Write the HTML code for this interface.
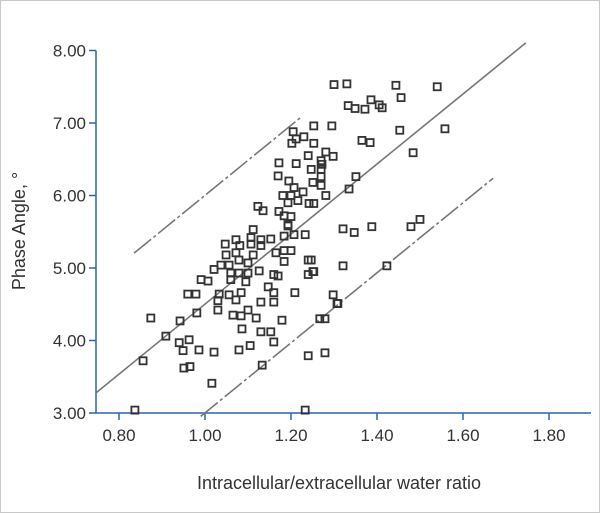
<!DOCTYPE html>
<html><head><meta charset="utf-8"><style>
html,body{margin:0;padding:0;background:#fff}
#wrap{position:relative;width:598px;height:511px;border:1px solid #c8c8c8;overflow:hidden}
svg text{font-family:"Liberation Sans",sans-serif;fill:#333}
</style></head><body>
<div id="wrap">
<svg id="chart" width="598" height="511"></svg>
</div>
<script>
const xTicks=[0.80,1.00,1.20,1.40,1.60,1.80];
const yTicks=[3.00,4.00,5.00,6.00,7.00,8.00];
const icwRatio=[1.300,1.253,1.295,1.205,1.212,1.230,1.202,1.253,1.281,1.298,1.240,1.270,1.172,1.212,1.170,1.247,1.270,1.195,1.251,1.270,1.270,1.207,1.228,1.281,1.181,1.200,1.216,1.193,1.242,1.253,1.123,1.135,1.172,1.184,1.200,1.193,1.112,
1.193,1.047,1.072,1.107,1.130,1.153,1.184,1.207,1.233,1.081,1.107,1.130,1.049,1.072,1.112,1.165,1.184,1.200,1.037,1.056,1.079,1.100,1.184,1.247,1.021,1.060,1.079,1.100,1.126,1.160,1.170,1.240,1.251,0.991,1.007,1.060,1.095,0.960,0.979,1.033,1.056,1.084,1.147,1.160,1.209,1.298,1.307,1.030,1.072,1.130,1.160,1.030,0.981,1.065,1.084,1.100,1.119,0.942,0.874,1.179,1.267,1.086,1.130,1.153,0.909,0.940,0.963,0.949,0.986,1.021,1.079,1.105,1.160,1.240,1.279,0.856,0.951,0.965,1.133,1.016,0.837,1.233,
1.330,1.444,1.540,1.456,1.333,1.349,1.372,1.386,1.405,1.412,1.453,1.558,1.384,1.365,1.484,1.272,1.351,1.335,1.321,1.347,1.388,1.479,1.500,1.240,1.253,1.321,1.423,1.309,1.279];
const phaseAngle=[7.53,6.96,6.96,6.88,6.78,6.81,6.72,6.72,6.60,6.54,6.55,6.48,6.45,6.44,6.27,6.36,6.36,6.20,6.18,6.26,6.14,6.11,6.05,6.00,6.00,6.00,5.93,5.90,5.89,5.89,5.85,5.79,5.78,5.72,5.71,5.60,5.53,
5.58,5.33,5.39,5.42,5.39,5.40,5.44,5.46,5.46,5.31,5.33,5.31,5.18,5.21,5.18,5.21,5.24,5.24,5.04,5.04,5.11,5.07,5.09,5.11,4.98,4.93,4.93,4.93,4.96,4.91,4.89,4.91,4.95,4.84,4.82,4.84,4.81,4.64,4.64,4.64,4.63,4.66,4.74,4.66,4.66,4.63,4.51,4.55,4.56,4.53,4.53,4.42,4.38,4.35,4.34,4.42,4.31,4.27,4.31,4.28,4.30,4.16,4.12,4.12,4.06,3.97,4.01,3.86,3.87,3.84,3.87,3.93,3.98,3.79,3.83,3.72,3.62,3.64,3.66,3.41,3.04,3.04,
7.54,7.52,7.50,7.35,7.24,7.20,7.19,7.32,7.25,7.21,6.90,6.92,6.73,6.76,6.59,6.43,6.26,6.09,5.54,5.49,5.57,5.57,5.67,5.11,4.95,5.03,5.03,4.51,4.30];
const fitIntercept=3.28, fitSlope=4.83, fitX0=0.747, bandOffset=1.5;

const NS='http://www.w3.org/2000/svg';
const svg=document.getElementById('chart');
const X0=95,X1=590,Y0=412;
function sx(v){return 204+(v-1)*430;}
function sy(v){return 412-(v-3)*72.5;}
function mk(t,a,p){const e=document.createElementNS(NS,t);for(const k in a)e.setAttribute(k,a[k]);(p||svg).appendChild(e);return e;}
function fit(x){return fitIntercept+fitSlope*(x-fitX0);}

// axes
let ya=mk('line',{x1:X0,y1:sy(8),x2:X0,y2:Y0,stroke:'#2a64b0','stroke-width':1.5});


let xa=mk('line',{x1:X0,y1:Y0,x2:X1,y2:Y0,stroke:'#2a64b0','stroke-width':1.5});


yTicks.forEach(v=>{
  let l=mk('line',{x1:X0-7,y1:sy(v),x2:X0,y2:sy(v),stroke:'#2a64b0','stroke-width':1.5});
  
  
  let t=mk('text',{x:X0-10,y:sy(v)+6,'text-anchor':'end','font-size':17});
  t.textContent=v.toFixed(2);
  
  
});
xTicks.forEach(v=>{
  let l=mk('line',{x1:sx(v),y1:Y0,x2:sx(v),y2:Y0+7,stroke:'#2a64b0','stroke-width':1.5});
  
  
  let t=mk('text',{x:sx(v),y:Y0+28,'text-anchor':'middle','font-size':17});
  t.textContent=v.toFixed(2);
  
  
});
let xt=mk('text',{x:338,y:488,'text-anchor':'middle','font-size':18});
xt.textContent='Intracellular/extracellular water ratio';


let yt=mk('text',{x:24,y:230,'text-anchor':'middle','font-size':18,transform:'rotate(-90 24 230)'});
yt.textContent='Phase Angle, °';



// lines
let fl=mk('line',{x1:sx(0.747),y1:sy(fit(0.747)),x2:sx(1.746),y2:sy(fit(1.746)),stroke:'#777','stroke-width':1.6});


let ul=mk('line',{x1:sx(0.835),y1:sy(fit(0.835)+bandOffset),x2:sx(1.222),y2:sy(fit(1.222)+bandOffset),stroke:'#777','stroke-width':1.6,'stroke-dasharray':'22 3 3 3'});


let ll=mk('line',{x1:sx(0.99),y1:sy(fit(0.99)-bandOffset),x2:sx(1.67),y2:sy(fit(1.67)-bandOffset),stroke:'#777','stroke-width':1.6,'stroke-dasharray':'22 3 3 3'});



// points
const n=Math.min(icwRatio.length,phaseAngle.length);
for(let i=0;i<n;i++){
  let r=mk('rect',{x:sx(icwRatio[i])-3.5,y:sy(phaseAngle[i])-3.5,width:7,height:7,fill:'none',stroke:'#333','stroke-width':1.8});
  
  
}
</script>
</body></html>
